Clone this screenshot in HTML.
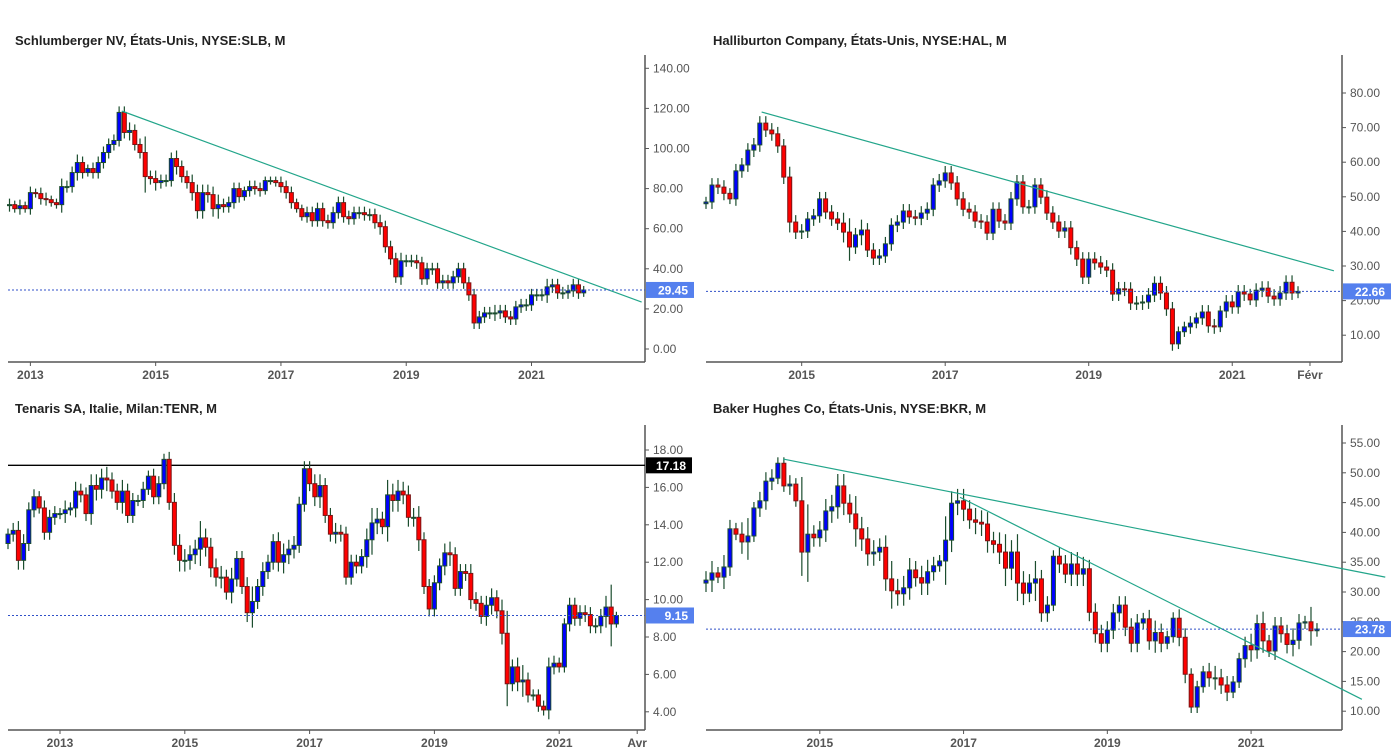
<!DOCTYPE html>
<html><head><meta charset="utf-8"><style>
html,body{margin:0;padding:0;background:#fff;}
svg{display:block;font-family:"Liberation Sans",Arial,sans-serif;}
</style></head><body>
<svg id="c" width="1396" height="754" viewBox="0 0 1396 754"></svg>
<script>
// ---- data ----
const slbClose=[72,70,71.5,70,78,77.5,75,74.5,73,72,81,81,88,93,88,90,88,93,98,102,104,118,108,109,102,98,86,85,83,84,84,95,91,86,83,78,69,78,77,70,72,71,73,80,76,79,81,80,79,84,84,83,81,78,73,70,66,68,64,70,64,63,68,73,66,65,68,68,67,67,63,61,51,45,36,44,44,44,43,35,40,40,33,34,33,36,40,33,27,13,16,18,18,18,19,16,15,21,22,22,27,27,27,31,32,28,28,29,32,28,29.45];
const slbWick=[3,2,3,2,3,2,3,3,2,2,4,3,3,4,3,2,3,3,3,3,3,3,3,4,3,3,8,3,4,3,3,3,4,3,3,4,4,4,4,4,5,3,3,3,3,2,3,3,3,2,2,2,3,3,3,2,2,3,3,3,3,3,3,3,3,3,3,3,3,3,3,4,3,3,3,4,3,3,3,3,3,3,3,3,3,3,3,3,3,3,3,3,3,4,3,3,3,3,3,3,3,3,3,4,3,3,3,3,3,3,2];
const slbTicks=["2013","2015","2017","2019","2021"];
const slbTickIdx=[4,28,52,76,100];
const slbY=[0,20,40,60,80,100,120,140];
const slbTrend=[[21.5,118.7],[121.1,23.4]];

const halClose=[48.5,53.4,52.8,51,49.4,57.5,59.2,63.5,65,71.3,69.3,68.2,64.7,55.7,42.7,39.8,40.1,43.6,44.5,49.4,45.6,43.6,42.4,39.8,35.5,39,40.4,34.6,32.3,32.9,36.4,41.8,42.7,45.9,44.2,43.8,45.3,46.4,53.4,54.6,56.9,54,49.4,46.4,45.6,43,42.7,39.5,46.4,43,42.4,49.4,54.3,47.1,47.1,53.4,49.9,45.3,42.7,40.1,41,35.3,32,26.8,32,30.9,29.7,28.8,21.9,23.4,23.3,19.3,19.3,19.6,21.6,25,22.2,17.6,7.5,11,12.4,13.5,15,16.7,12.7,12.4,17,19.6,18.2,22.5,21.9,20.2,23,23.6,21.3,20.5,22.2,25.3,22.2,22.66];
const halWick=[1.5,2,2,2,1.5,2,2,2,2,2,2,2,2,2,3,2,2,2,2,2,2,2,2,3,4,2,3,2,2,2,2,2,2,2,2,2,2,2,2,2,2,2,2,2,2,2,2,2,2,2,2,2,2,2,2,2,2,2,2,2,2,2,2,2,2,2,2,2,2,2,2,2,2,2,2,2,2,2,2,1.5,1.5,2,1.5,2,2,2,1.5,2,2,2,2,1.5,2,2,2,2,2,2,2,1.5];
const halTicks=["2015","2017","2019","2021","Févr"];
const halTickIdx=[16,40,64,88,101];
const halY=[10,20,30,40,50,60,70,80];
const halTrend=[[9.3,74.5],[105,28.6]];

const tenClose=[13.5,13.7,12.1,13,14.8,15.5,14.9,13.6,14.4,14.6,14.6,14.8,14.9,15.8,15.6,14.6,16.1,15.9,16.5,16.4,15.8,15.2,15.8,14.5,15.3,15.3,15.9,16.6,15.5,16.2,17.5,15.2,12.9,12.1,12.1,12.4,12.7,13.3,12.8,11.7,11.2,11.2,10.4,11.1,12.2,10.7,9.3,9.9,10.7,11.5,12,13.1,12,12.4,12.7,12.9,15.1,17,16.2,15.5,16.1,14.5,13.5,13.6,13.5,11.2,12,11.8,12.3,13.2,14.1,14.3,13.9,15.6,15.3,15.8,15.6,14.4,14.4,13.2,10.7,9.5,10.9,11.8,12.5,12.4,10.6,11.5,11.4,10,9.8,9.1,9.7,10.1,9.4,8.2,5.5,6.4,5.6,5.7,4.9,4.9,4.3,4.1,6.4,6.6,6.4,8.7,9.7,9,9.3,9.2,8.6,8.6,9.1,9.6,8.7,9.15];
const tenWick=[0.3,0.4,0.5,0.5,0.4,0.4,0.3,0.4,0.4,0.4,0.3,0.5,0.3,0.5,0.4,0.4,0.6,0.6,0.5,0.6,0.4,0.4,0.6,0.4,0.4,0.3,0.4,0.3,0.4,0.4,0.3,0.4,0.5,0.6,0.6,0.5,0.5,0.9,0.5,0.5,0.5,0.6,0.4,0.6,0.4,0.4,0.5,0.8,0.4,0.5,0.4,0.4,0.5,0.6,0.5,0.5,0.4,0.4,0.4,0.5,0.6,0.4,0.4,0.5,0.4,0.4,0.4,0.4,0.4,0.6,0.8,0.6,0.4,0.8,0.6,0.6,0.5,0.5,0.5,0.6,0.4,0.4,0.4,0.4,0.5,0.6,0.4,0.4,0.4,0.5,0.4,0.4,0.5,0.5,0.4,0.6,1.2,0.4,0.5,0.8,0.4,0.3,0.3,0.3,0.5,0.4,0.3,0.3,0.4,0.4,0.4,0.4,0.4,0.4,0.4,0.6,1.2,0.2];
const tenTicks=["2013","2015","2017","2019","2021","Avr"];
const tenTickIdx=[10,34,58,82,106,121];
const tenY=[4,6,8,10,12,14,16,18];
const tenHLine=17.18;

const bkrClose=[32,33.2,32.5,34.2,40.6,39.7,38.4,39.4,44.1,45.3,48.6,49.1,51.6,47.8,48.1,45.3,36.7,39.7,39.1,40.4,43.6,44.3,47.8,44.9,43.1,40.6,38.9,36.4,36.7,37.5,32.2,30.2,29.7,30.7,33.7,32.4,31.5,33.4,34.4,35.2,38.7,44.9,45.3,43.9,42.1,41.7,41.4,38.6,38,36.7,34,36.7,31.5,29.8,31.5,32.2,26.5,27.8,36,34.7,33,34.7,33,33.9,26.6,23,21.4,23.6,26.5,27.8,24.1,21.4,24.8,25.5,21.8,23.2,21.4,22.5,25.6,22.4,16.2,10.7,14.1,16.6,15.6,15.6,14.4,13.2,14.9,18.8,21,20.3,24.7,21.8,20.1,24.3,23,21.2,21.9,24.8,25,23.5,23.78];
const bkrWick=[1.5,2,1,2,1.5,1,2,3,1,1.5,1.5,1.5,1,1,1.5,1,4,5,1.5,1.5,2,2,2,2,1.5,3,2,2,2,1.5,2,3,2,2,2,1.5,2,2,1.5,1,4,2,2,2,1.5,2,2,2,1.5,2,3,2,3,2,1.5,3,1.5,1.5,1,1.5,1.5,2,2,2,1.5,1.5,1.5,1.5,1.5,1.5,1.5,1.5,1.5,1,1.5,2,1.5,1,1,1.5,1.5,1,1,1,1.5,2,1.5,1.5,1,1,1.5,2,1.5,2,1,1.5,1.5,1.5,2,1.5,1,2.5,1,1];
const bkrTicks=["2015","2017","2019","2021"];
const bkrTickIdx=[19,43,67,91];
const bkrY=[10,15,20,25,30,35,40,45,50,55];
const bkrTrendA=[[12.9,52.3],[113.4,32.5]];
const bkrTrendB=[[42.4,45.9],[109.5,12.0]];

// ---- drawing ----
const NS="http://www.w3.org/2000/svg";
const svg=document.getElementById('c');
function mk(tag,attrs,parent){const e=document.createElementNS(NS,tag);for(const k in attrs)e.setAttribute(k,attrs[k]);(parent||svg).appendChild(e);return e;}

function panel(p){
  const g=mk('g',{});
  
  
  const X=i=>p.x0+i*p.step;
  const Y=v=>p.yRef+(p.vRef-v)*p.ppu;
  const t=mk('text',{x:p.titleX,y:p.titleY,'font-size':13,'font-weight':'bold',fill:'#222'},g);
  t.textContent=p.title;
  
  
  const ax=mk('g',{},g);
  
  
  mk('line',{x1:p.axisX,y1:p.top,x2:p.axisX,y2:p.bottom,stroke:'#555','stroke-width':1.5},ax);
  mk('line',{x1:p.left,y1:p.bottom,x2:p.axisX,y2:p.bottom,stroke:'#555','stroke-width':1.5},ax);
  p.yTicks.forEach(v=>{
    const y=Y(v);
    mk('line',{x1:p.axisX,y1:y,x2:p.axisX+4,y2:y,stroke:'#555'},ax);
    const tx=mk('text',{x:p.axisX+8,y:y+4,'font-size':12,fill:'#555'},ax);
    tx.textContent=v.toFixed(2);
    
    
  });
  const xa=mk('g',{},g);
  
  
  p.xTicks.forEach((lab,k)=>{
    const x=X(p.xTickIdx[k]);
    mk('line',{x1:x,y1:p.bottom,x2:x,y2:p.bottom+4,stroke:'#555'},xa);
    const tx=mk('text',{x:x,y:p.bottom+17,'font-size':12,'font-weight':'bold',fill:'#555','text-anchor':'middle'},xa);
    tx.textContent=lab;
    
    
  });
  if(p.hline!==undefined){
    const y=Y(p.hline);
    const hl=mk('line',{x1:p.left,y1:y,x2:p.axisX,y2:y,stroke:'#000','stroke-width':1.3},g);
    
    
    const hb=mk('rect',{x:p.axisX+1,y:y-8,width:46,height:16,fill:'#000'},g);
    
    
    const ht=mk('text',{x:p.axisX+41,y:y+4.5,'font-size':12,'font-weight':'bold',fill:'#fff','text-anchor':'end'},g);
    ht.textContent=p.hline.toFixed(2);
  }
  const cg=mk('g',{},g);
  
  
  const c=p.close;
  c.forEach((cl,i)=>{
    const op=i===0?cl-0.5:c[i-1];
    const w=p.wick[i]!==undefined?p.wick[i]:p.wick[p.wick.length-1];
    const hi=Math.max(op,cl)+w, lo=Math.min(op,cl)-w;
    const x=X(i);
    const up=cl>=op;
    const cnd=mk('g',{},cg);
    
    
    mk('line',{x1:x,y1:Y(hi),x2:x,y2:Y(lo),stroke:'#1b4d2e','stroke-width':1.2},cnd);
    const yt=Y(Math.max(op,cl)), yb=Y(Math.min(op,cl));
    mk('rect',{x:x-2,y:yt,width:4,height:Math.max(1,yb-yt),fill:up?'#0000ff':'#ff0000',stroke:up?'#1b4d2e':'#7a1414','stroke-width':1},cnd);
  });
  p.trends.forEach(tr=>{
    const l=mk('line',{x1:X(tr[0][0]),y1:Y(tr[0][1]),x2:X(tr[1][0]),y2:Y(tr[1][1]),stroke:'#22a58a','stroke-width':1.2},g);
    
    
  });
  const last=c[c.length-1], ly=Y(last);
  const pl=mk('line',{x1:p.left,y1:ly,x2:p.axisX,y2:ly,stroke:'#3050c8','stroke-width':1,'stroke-dasharray':'2,2'},g);
  
  
  const pb=mk('rect',{x:p.axisX+1,y:ly-8,width:48,height:16,fill:'#5580ee'},g);
  
  
  const pt=mk('text',{x:p.axisX+43,y:ly+4.5,'font-size':12,'font-weight':'bold',fill:'#fff','text-anchor':'end'},g);
  pt.textContent=last.toFixed(2);
}

panel({name:'slb-panel',title:'Schlumberger NV, États-Unis, NYSE:SLB, M',titleX:15,titleY:45,
  close:slbClose,wick:slbWick,xTicks:slbTicks,xTickIdx:slbTickIdx,yTicks:slbY,trends:[slbTrend],
  x0:9.5,step:5.22,yRef:349,vRef:0,ppu:2.005,left:8,axisX:645,top:55,bottom:362});
panel({name:'hal-panel',title:'Halliburton Company, États-Unis, NYSE:HAL, M',titleX:713,titleY:45,
  close:halClose,wick:halWick,xTicks:halTicks,xTickIdx:halTickIdx,yTicks:halY,trends:[halTrend],
  x0:706,step:5.98,yRef:93,vRef:80,ppu:3.46,left:706,axisX:1342,top:55,bottom:362});
panel({name:'tenr-panel',title:'Tenaris SA, Italie, Milan:TENR, M',titleX:15,titleY:413,
  close:tenClose,wick:tenWick,xTicks:tenTicks,xTickIdx:tenTickIdx,yTicks:tenY,trends:[],hline:tenHLine,
  x0:8,step:5.2,yRef:450,vRef:18,ppu:18.7,left:8,axisX:645,top:425,bottom:730});
panel({name:'bkr-panel',title:'Baker Hughes Co, États-Unis, NYSE:BKR, M',titleX:713,titleY:413,
  close:bkrClose,wick:bkrWick,xTicks:bkrTicks,xTickIdx:bkrTickIdx,yTicks:bkrY,trends:[bkrTrendA,bkrTrendB],
  x0:706,step:5.99,yRef:443,vRef:55,ppu:5.96,left:706,axisX:1342,top:425,bottom:730});
</script>
</body></html>
